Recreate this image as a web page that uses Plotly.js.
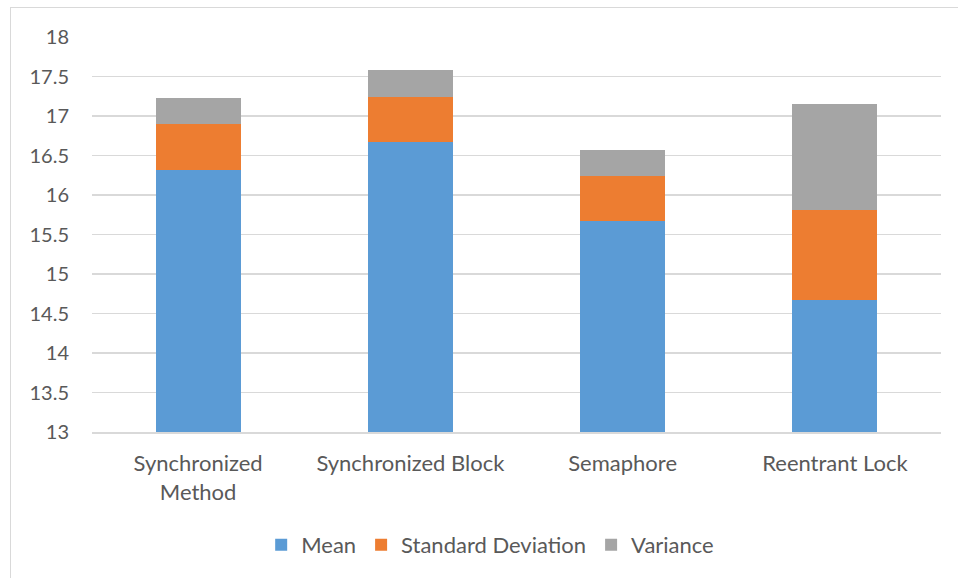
<!DOCTYPE html>
<html>
<head>
<meta charset="utf-8">
<script src="https://cdn.plot.ly/plotly-3.0.1.min.js"></script>
<style>
  html, body { margin: 0; padding: 0; background: #ffffff; overflow: hidden; }
  #frame { position: absolute; left: 10px; top: 7px; width: 948px; height: 571px;
           border-left: 1px solid #d9d9d9; border-top: 1px solid #d9d9d9; box-sizing: border-box; }
  #chart { position: absolute; left: 0; top: 0; width: 958px; height: 578px; }
</style>
</head>
<body>
<div id="frame"></div>
<div id="chart"></div>
<script>
const categories = ["Synchronized Method", "Synchronized Block", "Semaphore", "Reentrant Lock"];
const tickLabels = ["Synchronized<br>Method", "Synchronized Block", "Semaphore", "Reentrant Lock"];
const meanValues = [16.32, 16.665, 15.665, 14.667];
const stdDevValues = [0.575, 0.575, 0.58, 1.146];
const varianceValues = [0.339, 0.338, 0.33, 1.333];
const yTicks = [13, 13.5, 14, 14.5, 15, 15.5, 16, 16.5, 17, 17.5, 18];

const font = "Lato, 'Open Sans', sans-serif";
const textColor = "#595959";

const traces = [
  { type: "bar", name: "Mean", x: categories, y: meanValues, marker: { color: "#5B9BD5" } },
  { type: "bar", name: "Standard Deviation", x: categories, y: stdDevValues, marker: { color: "#ED7D31" } },
  { type: "bar", name: "Variance", x: categories, y: varianceValues, marker: { color: "#A5A5A5" } }
];

const layout = {
  width: 958, height: 578,
  paper_bgcolor: "rgba(0,0,0,0)", plot_bgcolor: "rgba(0,0,0,0)",
  margin: { l: 92, r: 17, t: 37, b: 146 },
  barmode: "stack",
  bargap: 0.6,
  font: { family: font, color: textColor, size: 20 },
  hovermode: false,
  xaxis: {
    tickmode: "array", tickvals: categories, ticktext: tickLabels,
    showgrid: false, zeroline: false, showline: true, linecolor: "#d9d9d9", linewidth: 1.5,
    ticks: "", tickfont: { family: font, size: 22, color: textColor },
    ticklabelstandoff: 11
  },
  yaxis: {
    range: [13, 18], tickmode: "array", tickvals: yTicks,
    showgrid: true, gridcolor: "#d9d9d9", gridwidth: 1.5,
    zeroline: false, showline: false, ticks: "",
    tickfont: { family: font, size: 20, color: textColor },
    ticklabelstandoff: 22
  },
  legend: {
    orientation: "h", x: 0.469, xanchor: "center", y: -0.286, yanchor: "middle",
    font: { family: font, size: 22, color: textColor },
    itemwidth: 30, traceorder: "normal"
  },
  showlegend: true
};

Plotly.newPlot("chart", traces, layout, { displayModeBar: false, staticPlot: true });
</script>
</body>
</html>
